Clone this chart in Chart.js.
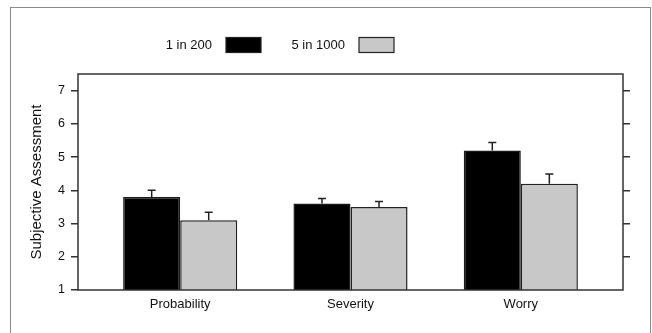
<!DOCTYPE html>
<html>
<head>
<meta charset="utf-8">
<script src="https://cdn.jsdelivr.net/npm/chart.js@4/dist/chart.umd.min.js"></script>
<style>
html,body{margin:0;padding:0;background:#fff;}
#wrap{position:relative;width:652px;height:333px;}
canvas{display:block;}
</style>
</head>
<body>
<div id="wrap"><canvas id="c" width="652" height="333"></canvas></div>
<script>
const categories = ["Probability", "Severity", "Worry"];
const seriesNames = ["1 in 200", "5 in 1000"];
const valuesA = [3.8, 3.6, 5.2];
const valuesB = [3.1, 3.5, 4.2];
const errorsA = [0.2, 0.15, 0.24];
const errorsB = [0.24, 0.16, 0.29];
const yTicks = [1, 2, 3, 4, 5, 6, 7];

const FONT = "'Liberation Sans', Arial, sans-serif";
const AXIS = '#333333';

const toPoints = vals => vals.map((v, i) => ({ x: i + 1, y: v }));

const errorBars = {
  id: 'errorBars',
  afterDatasetsDraw(chart) {
    const ctx = chart.ctx;
    const ys = chart.scales.y;
    chart.data.datasets.forEach((ds, di) => {
      const meta = chart.getDatasetMeta(di);
      meta.data.forEach((el, i) => {
        const v = ds.data[i].y, e = ds.errors[i];
        const top = ys.getPixelForValue(v + e);
        ctx.save();
        ctx.strokeStyle = '#222';
        ctx.lineWidth = 1.5;
        ctx.beginPath();
        ctx.moveTo(el.x, el.y);
        ctx.lineTo(el.x, top);
        ctx.moveTo(el.x - 4, top);
        ctx.lineTo(el.x + 4, top);
        ctx.stroke();
        ctx.restore();
      });
    });
  }
};

const frame = {
  id: 'frame',
  beforeDraw(chart) {
    const ctx = chart.ctx;
    ctx.save();
    ctx.strokeStyle = '#8a8a8a';
    ctx.lineWidth = 1;
    ctx.strokeRect(10.5, 7.5, 640, 340);
    ctx.restore();
  },
  afterDatasetsDraw(chart) {
    const { left, right, top, bottom } = chart.chartArea;
    const ctx = chart.ctx;
    ctx.save();
    ctx.strokeStyle = AXIS;
    ctx.lineWidth = 1.5;
    ctx.strokeRect(left, top, right - left, bottom - top);
    ctx.restore();
  }
};

const customLegend = {
  id: 'customLegend',
  afterDraw(chart) {
    const ctx = chart.ctx;
    const items = [
      { textRight: 212, boxLeft: 226 },
      { textRight: 345, boxLeft: 359 }
    ];
    ctx.save();
    ctx.font = '13px ' + FONT;
    ctx.textAlign = 'right';
    ctx.textBaseline = 'middle';
    chart.data.datasets.forEach((ds, i) => {
      const it = items[i];
      ctx.fillStyle = '#111';
      ctx.fillText(ds.label, it.textRight, 45);
      ctx.fillStyle = ds.backgroundColor;
      ctx.fillRect(it.boxLeft, 37.5, 35, 15);
      ctx.strokeStyle = '#222';
      ctx.lineWidth = 1.2;
      ctx.strokeRect(it.boxLeft, 37.5, 35, 15);
    });
    ctx.restore();
  }
};

new Chart(document.getElementById('c'), {
  type: 'bar',
  data: {
    datasets: [
      { label: seriesNames[0], data: toPoints(valuesA), errors: errorsA,
        backgroundColor: '#000000', borderColor: '#1a1a1a', borderWidth: 1.5 },
      { label: seriesNames[1], data: toPoints(valuesB), errors: errorsB,
        backgroundColor: '#c8c8c8', borderColor: '#222222', borderWidth: 1.5 }
    ]
  },
  plugins: [frame, errorBars, customLegend],
  options: {
    responsive: false,
    animation: false,
    devicePixelRatio: 1,
    layout: { padding: { left: 12, right: 0, top: 74, bottom: 0 } },
    datasets: { bar: { categoryPercentage: 0.67, barPercentage: 1.0 } },
    plugins: { legend: { display: false }, tooltip: { enabled: false } },
    scales: {
      x: {
        type: 'linear',
        offset: false,
        min: 0.4, max: 3.6,
        afterBuildTicks: s => { s.ticks = categories.map((c, i) => ({ value: i + 1 })); },
        afterFit: s => { s.height = 43; },
        grid: { display: false, drawTicks: false, offset: false },
        border: { display: false },
        ticks: {
          padding: 7,
          color: '#111',
          font: { family: FONT, size: 13 },
          callback: v => categories[v - 1]
        }
      },
      y: {
        type: 'linear',
        position: 'left',
        min: 1, max: 7.5,
        afterBuildTicks: s => { s.ticks = yTicks.map(v => ({ value: v })); },
        afterFit: s => { s.width = 66; },
        grid: { drawOnChartArea: false, drawTicks: true, tickLength: 7, color: AXIS, lineWidth: 1.5 },
        border: { display: false },
        ticks: { padding: 6, color: '#111', font: { family: FONT, size: 12.5 } },
        title: { display: true, text: 'Subjective Assessment', color: '#111',
                 font: { family: FONT, size: 15 }, padding: { top: 16, bottom: 8 } }
      },
      y2: {
        type: 'linear',
        position: 'right',
        min: 1, max: 7.5,
        afterBuildTicks: s => { s.ticks = yTicks.filter(v => v > 1).map(v => ({ value: v })); },
        afterFit: s => { s.width = 29; },
        grid: { drawOnChartArea: false, drawTicks: true, tickLength: 7, color: AXIS, lineWidth: 1.5 },
        border: { display: false },
        ticks: { display: false }
      }
    }
  }
});
</script>
</body>
</html>
